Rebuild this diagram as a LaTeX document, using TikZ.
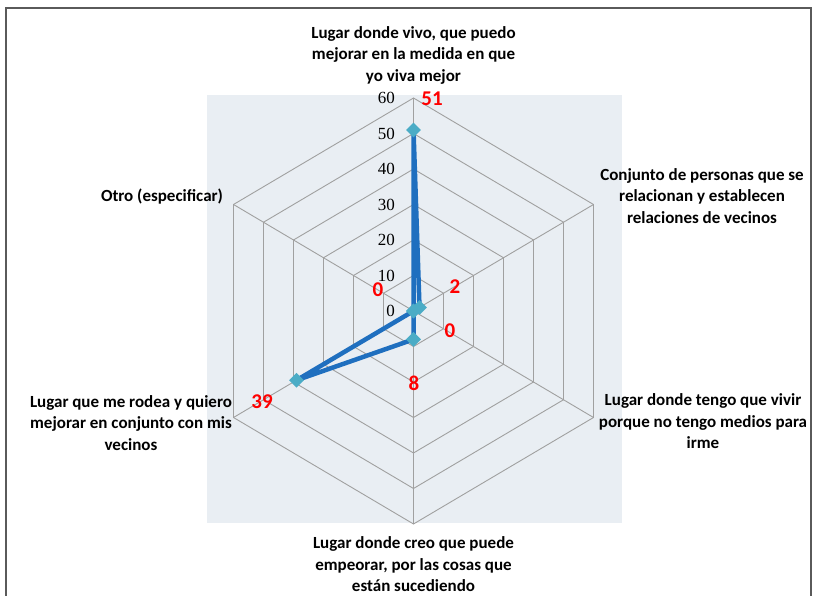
\documentclass[tikz,border=0pt]{standalone}
\usepackage{fontspec}
\setmainfont{Carlito}
\newfontfamily\numfont{Liberation Serif}
\usetikzlibrary{shapes.geometric}
\definecolor{bgc}{HTML}{E9EEF3}
\definecolor{gridc}{HTML}{A0A0A0}
\definecolor{linec}{HTML}{1F6FBF}
\definecolor{markc}{HTML}{4BACC6}
\definecolor{framec}{HTML}{5A5A5A}
\tikzset{
  gridline/.style={draw=gridc, line width=0.9pt},
  frameline/.style={draw=framec, line width=1.6pt},
  catlabel/.style={align=center, font=\bfseries\fontsize{17}{21.5}\selectfont, inner sep=0pt},
  vallabel/.style={text=red, font=\bfseries\fontsize{21}{22}\selectfont, inner sep=0pt},
  axlabel/.style={anchor=east, font=\numfont\fontsize{17}{19}\selectfont, inner sep=0pt},
  dataline/.style={draw=linec, line width=4.5pt, line join=round, line cap=round},
  marker/.style={diamond, fill=markc, minimum width=15pt, minimum height=15pt, inner sep=0pt}
}
\begin{document}
\begin{tikzpicture}[x=1pt,y=-1pt]
\useasboundingbox (0,0) rectangle (814,596);
\fill[white] (0,0) rectangle (814,596);
\draw[frameline] (6,597) -- (6,8) -- (811,8) -- (811,597);
\fill[bgc] (207,95) rectangle (622,523);
% grid hexagons
\foreach \r in {10,20,...,60}{
  \draw[gridline] ({413.5},{311-3.55*\r}) -- ({413.5+3*\r},{311-1.775*\r}) -- ({413.5+3*\r},{311+1.775*\r})
     -- ({413.5},{311+3.55*\r}) -- ({413.5-3*\r},{311+1.775*\r}) -- ({413.5-3*\r},{311-1.775*\r}) -- cycle;
}
\coordinate (c) at (413.5,311);
\coordinate (v0) at (413.5,98);
\coordinate (v1) at (593.5,204.5);
\coordinate (v2) at (593.5,417.5);
\coordinate (v3) at (413.5,524);
\coordinate (v4) at (233.5,417.5);
\coordinate (v5) at (233.5,204.5);
\foreach \i in {0,...,5}{\draw[gridline] (c) -- (v\i);}
% axis labels
\foreach \k in {0,1,...,6}{
  \node[axlabel] (ax\k) at (395,{311-35.5*\k}) {\the\numexpr\k*10\relax};
}
% data
\coordinate (p0) at (413.5,{311-3.55*51});
\coordinate (p1) at ({413.5+3*2},{311-1.775*2});
\coordinate (p2) at (413.5,311);
\coordinate (p3) at (413.5,{311+3.55*8});
\coordinate (p4) at ({413.5-3*39},{311+1.775*39});
\coordinate (p5) at (413.5,311);
\draw[dataline] (p0) -- (p1) -- (p2) -- (p3) -- (p4) -- (p5) -- cycle;
\foreach \i in {0,...,5}{\node[marker] (m\i) at (p\i) {};}
% value labels
\node[vallabel] (l0) at (432,99) {51};
\node[vallabel] (l1) at (455,287) {2};
\node[vallabel] (l2) at (450,331) {0};
\node[vallabel] (l3) at (414,383) {8};
\node[vallabel] (l4) at (262,402) {39};
\node[vallabel] (l5) at (378,290) {0};
% category labels
\node[catlabel] (t0) at (413.5,55) {Lugar donde vivo, que puedo\\mejorar en la medida en que\\yo viva mejor};
\node[catlabel] (t1) at (702,196) {Conjunto de personas que se\\relacionan y establecen\\relaciones de vecinos};
\node[catlabel] (t2) at (703,421.5) {Lugar donde tengo que vivir\\porque no tengo medios para\\irme};
\node[catlabel] (t3) at (413.5,564.5) {Lugar donde creo que puede\\empeorar, por las cosas que\\están sucediendo};
\node[catlabel] (t4) at (131,423) {Lugar que me rodea y quiero\\mejorar en conjunto con mis\\vecinos};
\node[catlabel] (t5) at (162,197) {Otro (especificar)};
\end{tikzpicture}
\end{document}
